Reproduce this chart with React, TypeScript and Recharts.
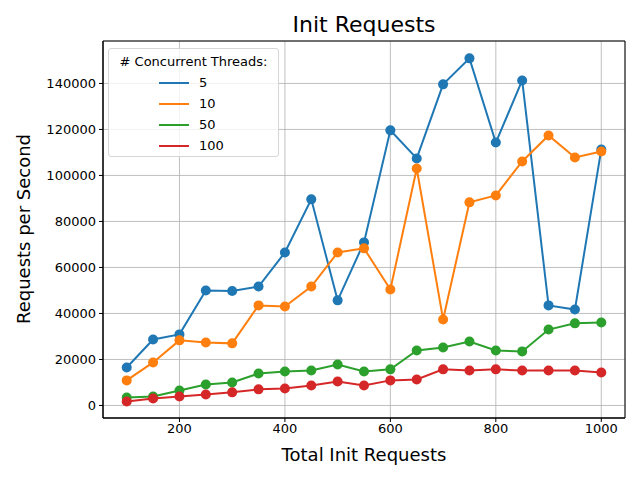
import React from 'react';
import { LineChart, Line, XAxis, YAxis, CartesianGrid, ReferenceArea } from 'recharts';

const totalRequests = [100, 150, 200, 250, 300, 350, 400, 450, 500, 550, 600, 650, 700, 750, 800, 850, 900, 950, 1000];
const threads5 = [16500, 28700, 30900, 50000, 49800, 51700, 66500, 89600, 45700, 70900, 119600, 107400, 139600, 150900, 114300, 141300, 43500, 41700, 111300];
const threads10 = [10900, 18700, 28300, 27400, 27000, 43500, 43000, 51700, 66500, 68300, 50400, 103000, 37400, 88300, 91300, 106100, 117400, 107800, 110400];
const threads50 = [3500, 3900, 6500, 9100, 10000, 13900, 14800, 15200, 17800, 14800, 15700, 23900, 25200, 27800, 23900, 23500, 33000, 35700, 36100];
const threads100 = [1700, 3000, 3900, 4800, 5700, 7000, 7400, 8700, 10400, 8700, 10900, 11300, 15700, 15200, 15700, 15200, 15200, 15200, 14300];
const xTicks = [200, 400, 600, 800, 1000];
const yTicks = [0, 20000, 40000, 60000, 80000, 100000, 120000, 140000];
const seriesNames = ['5', '10', '50', '100'];
const colors = ['#1f77b4', '#ff7f0e', '#2ca02c', '#d62728'];

const data = totalRequests.map((x, i) => ({
  x,
  s5: threads5[i],
  s10: threads10[i],
  s50: threads50[i],
  s100: threads100[i],
}));
const keys = ['s5', 's10', 's50', 's100'];

const FONT = '"DejaVu Sans", sans-serif';
const X_DOMAIN: [number, number] = [55, 1045];
const Y_DOMAIN: [number, number] = [-5450, 158450];

const LegendBox = () => (
  <div
    style={{
      position: 'absolute',
      left: 108,
      top: 48,
      width: 171,
      height: 109,
      border: '1px solid #d6d6d6',
      borderRadius: 3,
      background: 'rgba(255,255,255,0.8)',
      padding: '3px 0 0 0',
      fontFamily: FONT,
      fontSize: 13,
      color: '#000',
      boxSizing: 'border-box',
      whiteSpace: 'nowrap',
    }}
  >
    <div style={{ textAlign: 'center', height: 20, lineHeight: '20px' }}># Concurrent Threads:</div>
    {seriesNames.map((n, i) => (
      <div key={n} style={{ display: 'flex', alignItems: 'center', height: 21 }}>
        <div style={{ width: 50 }} />
        <div style={{ width: 30, height: 2, background: colors[i] }} />
        <div style={{ marginLeft: 10 }}>{n}</div>
      </div>
    ))}
  </div>
);

export default function App() {
  return (
    <div style={{ position: 'fixed', left: 0, top: 0, width: 640, height: 480, background: '#fff' }}>
      <LineChart
        width={640}
        height={480}
        data={data}
        margin={{ top: 41, right: 15, bottom: 32, left: 33 }}
      >
        <CartesianGrid stroke="#b0b0b0" strokeWidth={0.8} />
        <XAxis
          dataKey="x"
          type="number"
          domain={X_DOMAIN}
          ticks={xTicks}
          height={30}
          tick={{ fontFamily: FONT, fontSize: 13, fill: '#000' }}
          tickLine={{ stroke: '#000' }}
          axisLine={{ stroke: '#000' }}
          tickSize={4}
          tickMargin={2}
          allowDataOverflow
        />
        <YAxis
          type="number"
          domain={Y_DOMAIN}
          ticks={yTicks}
          width={70}
          tick={{ fontFamily: FONT, fontSize: 13, fill: '#000' }}
          tickLine={{ stroke: '#000' }}
          axisLine={{ stroke: '#000' }}
          tickSize={4}
          tickMargin={3}
          allowDataOverflow
        />
        {keys.map((k, i) => (
          <Line
            key={k}
            dataKey={k}
            name={seriesNames[i]}
            stroke={colors[i]}
            strokeWidth={2}
            dot={{ r: 5, fill: colors[i], stroke: colors[i], strokeWidth: 0 }}
            activeDot={false}
            isAnimationActive={false}
          />
        ))}
        <ReferenceArea
          x1={X_DOMAIN[0]}
          x2={X_DOMAIN[1]}
          y1={Y_DOMAIN[0]}
          y2={Y_DOMAIN[1]}
          fill="none"
          stroke="#000"
          strokeWidth={1}
          fillOpacity={0}
        />
      </LineChart>
      <LegendBox />
      <div
        style={{
          position: 'absolute',
          left: 103,
          width: 522,
          top: 12,
          textAlign: 'center',
          fontFamily: FONT,
          fontSize: 22,
          lineHeight: '26px',
        }}
      >
        Init Requests
      </div>
      <div
        style={{
          position: 'absolute',
          left: 103,
          width: 522,
          top: 444,
          textAlign: 'center',
          fontFamily: FONT,
          fontSize: 18,
          lineHeight: '22px',
        }}
      >
        Total Init Requests
      </div>
      <div
        style={{
          position: 'absolute',
          left: 24,
          top: 229,
          transform: 'translate(-50%, -50%) rotate(-90deg)',
          whiteSpace: 'nowrap',
          fontFamily: FONT,
          fontSize: 18,
          lineHeight: '22px',
        }}
      >
        Requests per Second
      </div>
    </div>
  );
}
